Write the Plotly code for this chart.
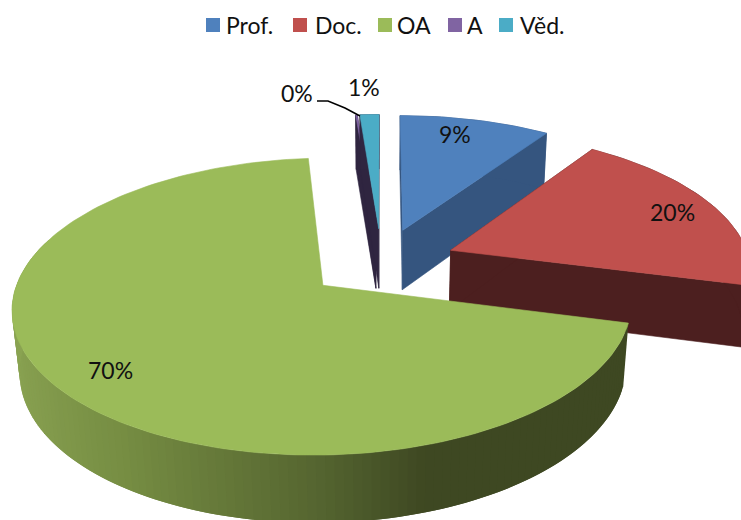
import math
import plotly.graph_objects as go

# Academic staff structure, share of each position in percent
categories = ["Prof.", "Doc.", "OA", "A", "Věd."]
shares = [9.45, 19.55, 69.6, 0.1, 1.2]

top_colors = ["#4f81bd", "#c0504d", "#9bbb59", "#8064a2", "#4bacc6"]
side_colors = ["#35557f", "#4c1f1f", "#3e4822", "#2f2540", "#2f2540"]

# Green rim shading against the outward normal's horizontal component
rim_stops = [(-1.0, (138, 163, 82)), (-0.55, (117, 140, 66)), (0.0, (85, 101, 48)),
             (0.3, (62, 72, 34)), (1.0, (62, 72, 34))]

# Perspective camera for the tilted pie
X0, Y0 = 381.5, 262.4
SCALE_X, SCALE_Y = 299.5, 139.0
PERSP, DEPTH_PERSP = 0.14, 0.02
THICKNESS = 62.0
EXPLODE = 0.25

# Hand-placed legend row
swatch_x = [213, 300, 385, 455, 506]
legend_text_x = [226, 315, 397, 467, 520]
LEGEND_Y = 25


def project(px, py, depth=0.0):
    w = 1 + PERSP * py + DEPTH_PERSP * depth
    return X0 + SCALE_X * px / w, Y0 + (-SCALE_Y * py + THICKNESS * depth) / w


def rim_color(nx):
    for (a, ca), (b, cb) in zip(rim_stops, rim_stops[1:]):
        if nx <= b:
            t = (nx - a) / (b - a)
            r, g, bl = (round(u + (v - u) * t) for u, v in zip(ca, cb))
            return f"rgb({r},{g},{bl})"
    return "rgb(62,72,34)"


def polygon(points, color, line_width=0.6):
    xs, ys = zip(*points)
    return go.Scatter(x=list(xs) + [xs[0]], y=list(ys) + [ys[0]], mode="lines", fill="toself",
                      fillcolor=color, line=dict(color=color, width=line_width),
                      hoverinfo="skip", showlegend=False)


def slice_traces(i, start, end):
    """Side faces and top face of one exploded wedge, back to front."""
    mid = (start + end) / 2
    cx, cy = EXPLODE * math.sin(mid), EXPLODE * math.cos(mid)
    n = max(2, int(math.degrees(end - start) / 1.5))
    angles = [start + (end - start) * j / n for j in range(n + 1)]
    rim = [(cx + math.sin(a), cy + math.cos(a)) for a in angles]
    traces = []
    if categories[i] == "OA":
        # Only the front of the big wedge shows; strips overlap so no seams appear between them
        front = [j for j in range(n - 1) if math.cos(angles[j]) < 0.3]
        for j in front:
            strip = [project(*rim[j]), project(*rim[j + 2]), project(*rim[j + 2], 1), project(*rim[j], 1)]
            traces.append(polygon(strip, rim_color(math.sin(angles[j + 1])), line_width=0))
    else:
        for edge in (rim[-1], rim[0]):
            traces.append(polygon([project(cx, cy), project(*edge), project(*edge, 1), project(cx, cy, 1)],
                                  side_colors[i]))
        traces.append(polygon([project(*p) for p in rim] + [project(*p, 1) for p in reversed(rim)],
                              side_colors[i]))
    traces.append(polygon([project(cx, cy)] + [project(*p) for p in rim], top_colors[i]))
    return traces


total = sum(shares)
bounds = []
running = 0.0
for value in shares:
    bounds.append((running / total * 2 * math.pi, (running + value) / total * 2 * math.pi))
    running += value

fig = go.Figure()
# Painter's order: far wedges first, the large front wedge last
for index in (0, 3, 4, 1, 2):
    fig.add_traces(slice_traces(index, *bounds[index]))

fig.add_trace(go.Scatter(x=swatch_x, y=[LEGEND_Y] * len(swatch_x), mode="markers",
                         marker=dict(symbol="square", size=14, color=top_colors, line=dict(width=0)),
                         hoverinfo="skip", showlegend=False))

label_pos = [(455, 134), (672, 212), (110, 370), (297, 93), (364, 87)]
annotations = [dict(x=x, y=y, text=f"{round(v)}%", showarrow=False, xref="x", yref="y",
                    font=dict(family="Lato", size=23, color="#111111"))
               for (x, y), v in zip(label_pos, shares)]
annotations += [dict(x=x, y=LEGEND_Y, text=name, showarrow=False, xref="x", yref="y",
                     xanchor="left", xshift=-2, font=dict(family="Lato", size=23, color="#111111"))
                for x, name in zip(legend_text_x, categories)]

# Leader line from the smallest wedge to its label
leader = dict(type="path", path="M 317 101 L 328 101 L 345 108 L 360 116", xref="x", yref="y",
              line=dict(color="black", width=1.5))

fig.update_layout(
    width=741, height=520, autosize=False,
    margin=dict(l=0, r=0, t=0, b=0),
    paper_bgcolor="white", plot_bgcolor="white",
    xaxis=dict(range=[0, 741], visible=False, fixedrange=True),
    yaxis=dict(range=[520, 0], visible=False, fixedrange=True),
    showlegend=False,
    annotations=annotations, shapes=[leader],
)

fig.write_html("out.html")
